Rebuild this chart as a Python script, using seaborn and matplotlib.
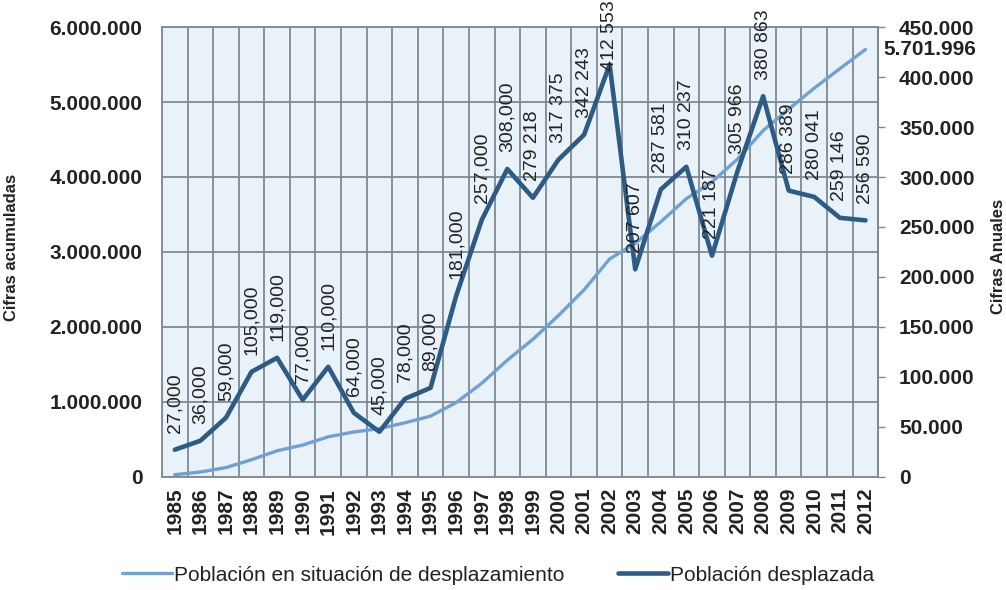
import numpy as np
import pandas as pd
import seaborn as sns
import matplotlib.pyplot as plt
from matplotlib.ticker import FuncFormatter, MultipleLocator
from matplotlib.lines import Line2D

# datos: poblacion desplazada por año y cifra acumulada
years = [str(y) for y in range(1985, 2013)]
anual = [27000, 36000, 59000, 105000, 119000, 77000, 110000, 64000, 45000,
         78000, 89000, 181000, 257000, 308000, 279218, 317375, 342243,
         412553, 207607, 287581, 310237, 221187, 305966, 380863, 286389,
         280041, 259146, 256590]
acumulado = [27000, 63000, 122000, 227000, 346000, 423000, 533000, 597000,
             642000, 720000, 809000, 990000, 1247000, 1555000, 1834218,
             2151593, 2493836, 2906389, 3113996, 3401577, 3711814, 3933001,
             4238967, 4619830, 4906219, 5186260, 5445406, 5701996]
etiquetas = ["27,000", "36,000", "59,000", "105,000", "119,000", "77,000",
             "110,000", "64,000", "45,000", "78,000", "89,000", "181,000",
             "257,000", "308,000", "279 218", "317 375", "342 243", "412 553",
             "207 607", "287 581", "310 237", "221 187", "305 966", "380 863",
             "286 389", "280 041", "259 146", "256 590"]
etiqueta_final = "5.701.996"

df = pd.DataFrame({"pos": range(len(years)), "anual": anual, "acumulado": acumulado})

sns.set_style("white")
plt.rcParams['font.family'] = ['Liberation Sans', 'DejaVu Sans']

light = "#6fa2d2"
dark = "#2c5b86"
gridc = "#7d8a93"
txt = "#222222"

fig, ax = plt.subplots(figsize=(10.06, 5.9), dpi=100)
fig.subplots_adjust(left=0.161, right=0.873, top=0.954, bottom=0.192)
ax2 = ax.twinx()

sns.lineplot(data=df, x="pos", y="acumulado", ax=ax, color=light, linewidth=2.4, legend=False)
sns.lineplot(data=df, x="pos", y="anual", ax=ax2, color=dark, linewidth=3.3, legend=False)

# fondo y rejilla
ax.set_facecolor("#e9f1f9")
ax.set_xlim(-0.5, len(years) - 0.5)
ax.set_ylim(0, 6000000)
ax2.set_ylim(0, 450000)
ax.set_xticks(range(len(years)))
ax.set_xticklabels(years, rotation=90, fontsize=15, color=txt, fontweight="bold")
ax.set_xticks(np.arange(-0.5, len(years)), minor=True)
ax.grid(which="minor", axis="x", color=gridc, linewidth=1.3)
ax.grid(which="major", axis="y", color=gridc, linewidth=1.3)
ax.grid(which="major", axis="x", visible=False)
ax.tick_params(axis="x", which="both", length=0, pad=8)
ax.yaxis.set_major_locator(MultipleLocator(1000000))
ax2.yaxis.set_major_locator(MultipleLocator(50000))

fmt = FuncFormatter(lambda v, p: f"{int(v):,}".replace(",", "."))
ax.yaxis.set_major_formatter(fmt)
ax2.yaxis.set_major_formatter(fmt)
ax.tick_params(axis="y", length=0, pad=14, labelsize=15, labelcolor=txt)
ax2.tick_params(axis="y", length=5, width=1, color=gridc, pad=10, labelsize=15, labelcolor=txt)
for lab in ax.get_yticklabels() + ax2.get_yticklabels():
    lab.set_fontweight("bold")

for s in ax.spines.values():
    s.set_color(gridc)
    s.set_linewidth(1.3)
for k in ["left", "top", "bottom"]:
    ax2.spines[k].set_visible(False)
ax2.spines["right"].set_color(gridc)
ax2.spines["right"].set_linewidth(1.3)

ax.set_xlabel("")
ax.set_ylabel("Cifras acumuladas", fontsize=12, fontweight="bold", color=txt)
ax.yaxis.set_label_coords(-0.2, 0.51)
ax2.set_ylabel("Cifras Anuales", fontsize=12, fontweight="bold", color=txt)
ax2.yaxis.set_label_coords(1.158, 0.49)

# etiquetas de valores anuales (la del maximo baja para no salirse)
top = max(anual)
for i, (v, lbl) in enumerate(zip(anual, etiquetas)):
    off = -5 if v == top else 12
    ax2.annotate(lbl, (i, v), xytext=(0, off), textcoords="offset points",
                 rotation=90, ha="center", va="bottom", fontsize=14, color=txt)

# etiqueta del ultimo acumulado
ax.annotate(etiqueta_final, (len(years) - 1, acumulado[-1]), xytext=(13, 0),
            textcoords="offset points", ha="left", va="center", fontsize=15,
            fontweight="bold", color=txt, annotation_clip=False)

handles = [Line2D([], [], color=light, linewidth=2.4),
           Line2D([], [], color=dark, linewidth=3.3)]
fig.legend(handles, ["Población en situación de desplazamiento", "Población desplazada"],
           loc="center", bbox_to_anchor=(0.495, 0.025), ncol=2, frameon=False,
           fontsize=15, handlelength=2.4, handletextpad=0.1, columnspacing=2.6,
           labelcolor=txt)

plt.savefig("out.png", dpi=100)
